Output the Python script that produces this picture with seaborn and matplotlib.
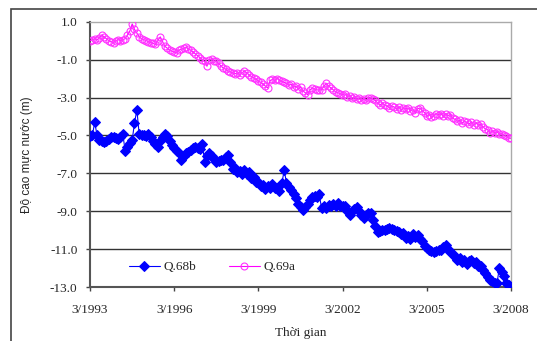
import matplotlib
matplotlib.use("Agg")
import matplotlib.pyplot as plt
import matplotlib.patches as mpatches
import pandas as pd
import seaborn as sns

# monthly water level, 3/1993 .. 3/2008 (one row per year)
q69a = [
    0.0, 0.05, 0.1, 0.05, 0.15, 0.3, 0.2, 0.1, 0.0, -0.05, -0.1, 0.0,
    0.05, 0.0, 0.05, 0.1, 0.3, 0.5, 0.88, 0.6, 0.4, 0.2, 0.1, 0.05,
    0.0, -0.05, -0.1, -0.15, -0.2, 0.0, 0.2, -0.05, -0.3, -0.4, -0.5, -0.55,
    -0.6, -0.65, -0.5, -0.45, -0.4, -0.35, -0.45, -0.5, -0.6, -0.7, -0.8, -0.9,
    -1.0, -1.1, -1.35, -1.0, -0.95, -1.05, -1.1, -1.2, -1.35, -1.45, -1.5, -1.6,
    -1.65, -1.7, -1.75, -1.7, -1.8, -1.7, -1.6, -1.7, -1.8, -1.9, -1.95, -2.05,
    -2.15, -2.2, -2.3, -2.4, -2.5, -2.1, -2.05, -2.1, -2.0, -2.1, -2.15, -2.2,
    -2.25, -2.35, -2.3, -2.45, -2.4, -2.55, -2.45, -2.65, -2.75, -2.85, -2.6, -2.5,
    -2.55, -2.6, -2.6, -2.6, -2.4, -2.25, -2.4, -2.5, -2.6, -2.7, -2.75, -2.8,
    -2.85, -2.8, -2.95, -2.9, -3.05, -2.95, -3.1, -3.05, -3.15, -3.1, -3.15, -3.0,
    -3.0, -3.1, -3.15, -3.3, -3.4, -3.3, -3.4, -3.45, -3.55, -3.45, -3.5, -3.6,
    -3.5, -3.65, -3.55, -3.6, -3.55, -3.7, -3.65, -3.8, -3.6, -3.55, -3.7, -3.8,
    -3.95, -3.9, -4.05, -3.95, -3.85, -3.9, -3.85, -4.0, -3.85, -3.95, -3.9, -4.1,
    -4.15, -4.25, -4.2, -4.35, -4.25, -4.3, -4.4, -4.3, -4.45, -4.35, -4.45, -4.4,
    -4.55, -4.65, -4.7, -4.85, -4.75, -4.85, -4.8, -4.95, -4.9, -5.0, -5.05, -5.15,
    -5.15,
]
q68b = [
    -5.05, -5.0, -4.3, -5.0, -5.25, -5.3, -5.35, -5.3, -5.2, -5.1, -5.1, -5.15,
    -5.2, -5.1, -4.9, -5.8, -5.6, -5.4, -5.25, -4.35, -3.65, -4.95, -5.0, -5.0,
    -5.05, -4.9, -5.1, -5.3, -5.45, -5.6, -5.3, -5.1, -4.95, -5.05, -5.3, -5.5,
    -5.65, -5.8, -5.95, -6.3, -6.1, -5.95, -5.85, -5.75, -5.65, -5.6, -5.65, -5.7,
    -5.45, -6.4, -6.1, -5.95, -6.1, -6.25, -6.4, -6.35, -6.3, -6.3, -6.15, -6.05,
    -6.4, -6.75, -6.7, -6.95, -6.9, -7.05, -6.85, -7.05, -6.95, -7.25, -7.2, -7.45,
    -7.45, -7.65, -7.6, -7.85, -7.65, -7.75, -7.55, -7.8, -7.75, -7.95, -7.5, -6.85,
    -7.5, -7.7, -7.9, -8.1, -8.3, -8.6, -8.8, -8.95, -8.8, -8.6, -8.4, -8.25,
    -8.2, -8.25, -8.1, -8.85, -8.75, -8.85, -8.65, -8.75, -8.6, -8.7, -8.55, -8.7,
    -8.7, -8.75, -9.0, -9.2, -9.0, -8.9, -8.8, -9.0, -9.2, -9.35, -9.2, -9.1,
    -9.1, -9.45, -9.8, -10.1, -10.05, -10.0, -10.0, -9.95, -9.9, -9.95, -10.0, -10.05,
    -10.1, -10.2, -10.15, -10.4, -10.3, -10.45, -10.2, -10.35, -10.25, -10.45, -10.55, -10.85,
    -10.95, -11.05, -11.1, -11.15, -11.1, -11.05, -11.05, -10.9, -10.8, -11.0, -11.15, -11.25,
    -11.4, -11.55, -11.45, -11.7, -11.6, -11.8, -11.65, -11.55, -11.75, -11.7, -11.9, -11.9,
    -12.1, -12.25, -12.45, -12.65, -12.7, -12.8, -12.8, -12.0, -12.2, -12.4, -12.8, -12.9,
    -13.0,
]
dates = pd.date_range("1993-03-01", periods=len(q69a), freq="MS")
xtick_dates = pd.to_datetime(["1993-03-01", "1996-03-01", "1999-03-01",
                              "2002-03-01", "2005-03-01", "2008-03-01"])
xtick_labels = ["3/1993", "3/1996", "3/1999", "3/2002", "3/2005", "3/2008"]
yticks = [1.0, -1.0, -3.0, -5.0, -7.0, -9.0, -11.0, -13.0]

df = pd.DataFrame({"date": dates, "Q.68b": q68b, "Q.69a": q69a})

sns.set_style("white")
plt.rcParams["font.family"] = ["Liberation Serif", "DejaVu Serif"]

fig = plt.figure(figsize=(5.37, 3.41), dpi=100)
ax = fig.add_axes([90 / 537, 1 - 287 / 341, 421 / 537, 265.3 / 341])

# outer chart border
fig.patches.append(mpatches.Rectangle((11 / 537, -0.05), 1.0, 1 - 9 / 341 + 0.05,
                                      transform=fig.transFigure, fill=False,
                                      edgecolor="#444444", linewidth=1.2, zorder=0))

for y in yticks[1:-1]:
    ax.axhline(y, color="#333333", linewidth=1.0, zorder=1)

sns.lineplot(data=df, x="date", y="Q.68b", ax=ax, color="#0000ff", linewidth=0.8,
             marker="D", markersize=4.6, markeredgecolor="#0000ff", label="Q.68b", zorder=3)
sns.lineplot(data=df, x="date", y="Q.69a", ax=ax, color="#ff00ff", linewidth=0.8,
             marker="o", markersize=5.0, markerfacecolor="none", markeredgecolor="#ff33ff",
             markeredgewidth=0.8, label="Q.69a", zorder=3)

ax.set_xlim(dates[0], dates[-1])
ax.set_ylim(-13.0, 1.0)
ax.set_yticks(yticks)
ax.set_yticklabels([f"{v:.1f}" for v in yticks])
ax.set_xticks(xtick_dates)
ax.set_xticklabels(xtick_labels)
ax.tick_params(axis="both", labelsize=9.5, direction="out", length=3, width=1,
               color="#444444", left=True, bottom=True, pad=6)
ax.tick_params(axis="x", pad=9)

for side in ["left", "bottom"]:
    ax.spines[side].set_color("#555555")
    ax.spines[side].set_linewidth(1.5)
for side in ["top", "right"]:
    ax.spines[side].set_color("#aaaaaa")
    ax.spines[side].set_linewidth(1.0)

ax.set_xlabel("Thời gian", fontsize=9.5, labelpad=8)
ax.set_ylabel("Độ cao mực nước (m)", fontsize=8.5, family=["Liberation Sans", "DejaVu Sans"],
              labelpad=12)

ax.legend(loc="center left", bbox_to_anchor=(0.065, 0.075), ncol=2, frameon=False,
          fontsize=9.5, handlelength=2.3, columnspacing=2.5, handletextpad=0.3)

fig.savefig("out.png", dpi=100)
